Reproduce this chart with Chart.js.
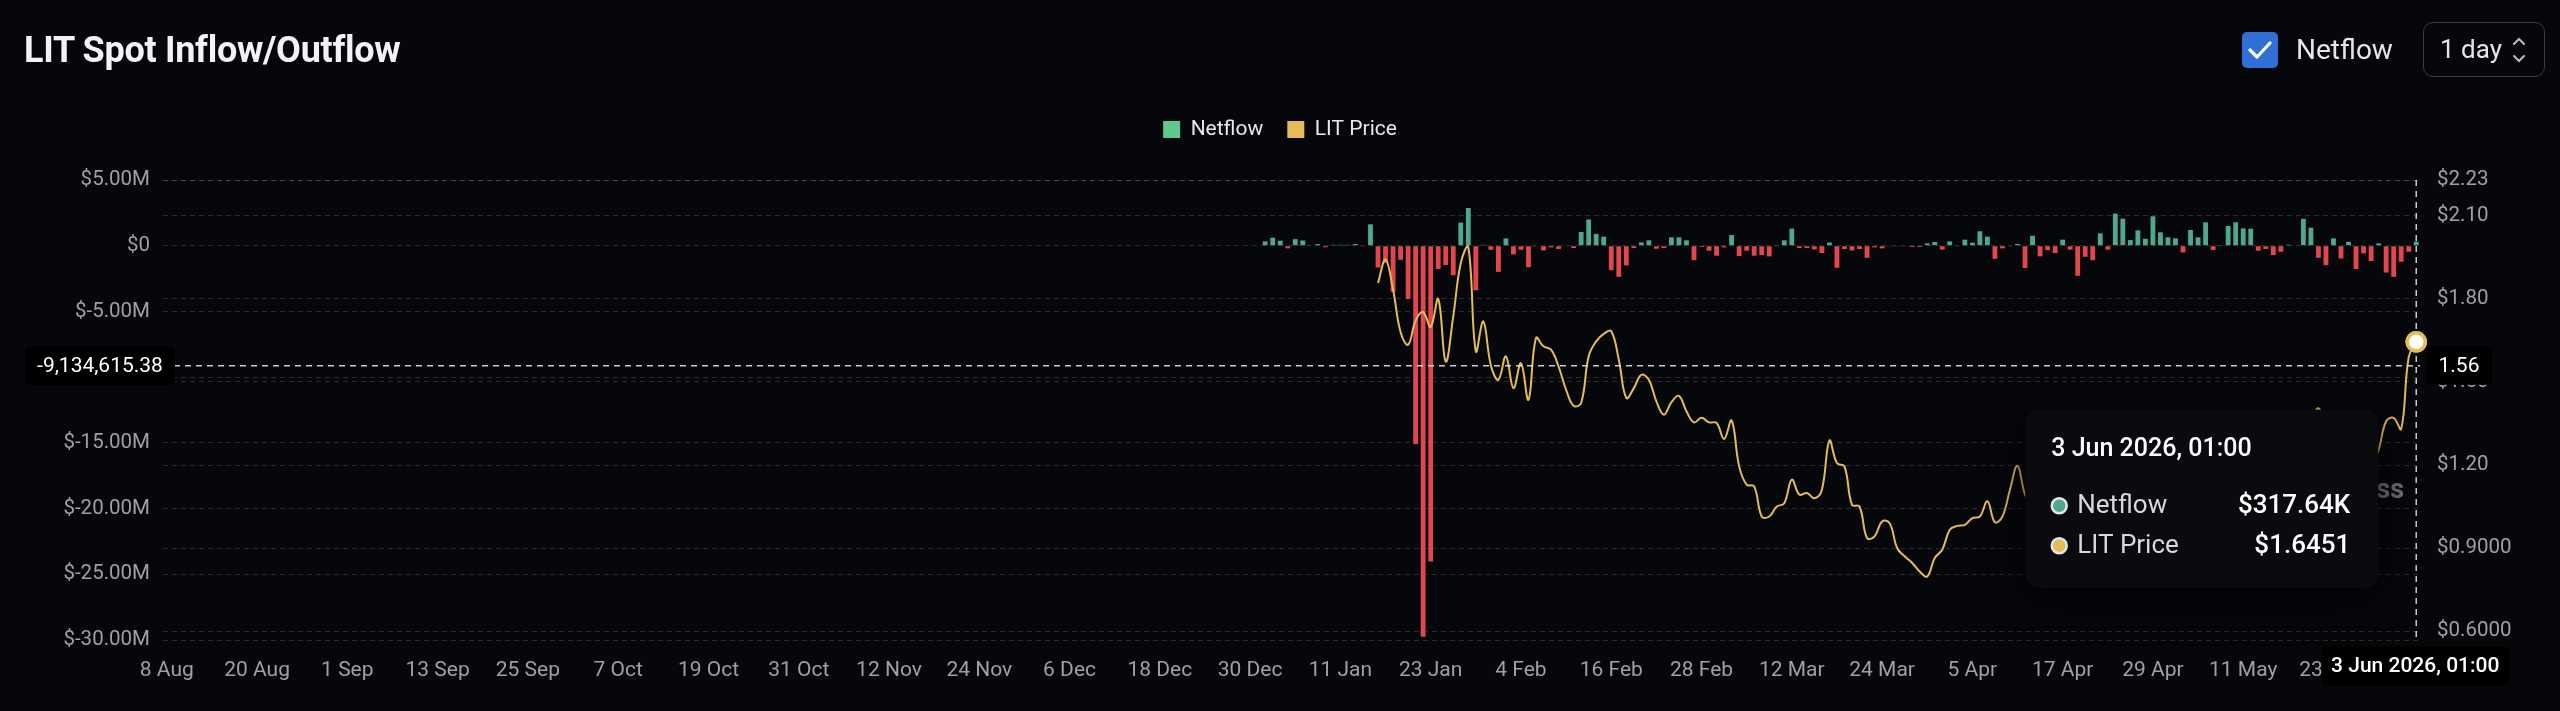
<!DOCTYPE html>
<html>
<head>
<meta charset="utf-8">
<title>LIT Spot Inflow/Outflow</title>
<script src="https://cdn.jsdelivr.net/npm/chart.js@4.4.1/dist/chart.umd.min.js"></script>
<style>
  html, body { margin: 0; padding: 0; background: #06070b; }
  body {
    width: 2560px; height: 711px; overflow: hidden; position: relative;
    font-family: Roboto, 'Noto Sans', sans-serif;
  }
  .chart-wrap { position: absolute; left: 0; top: 0; width: 2560px; height: 711px; }
  .title {
    position: absolute; left: 24px; top: 30px; line-height: 40px;
    font-size: 36px; font-weight: 700; color: #f2f3f5; letter-spacing: -0.3px;
  }
  .toggle {
    position: absolute; left: 2242px; top: 32px; width: 36px; height: 36px;
    background: #2f6fd6; border-radius: 5px;
  }
  .toggle svg { position: absolute; left: 5px; top: 6px; }
  .toggle-label {
    position: absolute; left: 2296px; top: 31px; line-height: 38px;
    font-size: 28px; color: #e6e6e8;
  }
  .select {
    position: absolute; left: 2423px; top: 22px; width: 120px; height: 53px;
    border: 1.5px solid #3a3c42; border-radius: 10px;
  }
  .select span {
    position: absolute; left: 16px; top: 7px; line-height: 38px;
    font-size: 26px; color: #e6e6e8;
  }
  .select svg { position: absolute; left: 88px; top: 11px; }
</style>
</head>
<body>
<div class="chart-wrap"><canvas id="flowChart"></canvas></div>

<div class="title">LIT Spot Inflow/Outflow</div>
<div class="toggle">
  <svg width="26" height="24" viewBox="0 0 26 24">
    <polyline points="3,12 10,19 23,5" fill="none" stroke="#ffffff" stroke-width="3.2"
      stroke-linecap="round" stroke-linejoin="round"/>
  </svg>
</div>
<div class="toggle-label">Netflow</div>
<div class="select">
  <span>1 day</span>
  <svg width="14" height="32" viewBox="0 0 14 32">
    <polyline points="2,10 7,5 12,10" fill="none" stroke="#bdbdc2" stroke-width="2" stroke-linecap="round"/>
    <polyline points="2,22 7,27 12,22" fill="none" stroke="#bdbdc2" stroke-width="2" stroke-linecap="round"/>
  </svg>
</div>

<script>
// Categories: one per day, 8 Aug 2025 -> 3 Jun 2026
const START_DATE = Date.UTC(2025, 7, 8);
const DAY_COUNT = 300;
const MONTHS = ['Jan', 'Feb', 'Mar', 'Apr', 'May', 'Jun', 'Jul', 'Aug', 'Sep', 'Oct', 'Nov', 'Dec'];
const dates = [];
for (let i = 0; i < DAY_COUNT; i++) {
  const d = new Date(START_DATE + i * 86400000);
  dates.push(d.getUTCDate() + ' ' + MONTHS[d.getUTCMonth()]);
}

// Netflow in $M, daily from 1 Jan 2026
const NETFLOW_FIRST = '1 Jan';
const netflowM = [
  0.33, 0.61, 0.38, -0.20, 0.50, 0.40, 0.03, 0.12, -0.12, 0.07,
  0.07, 0.07, 0.12, -0.05, 1.63, -1.66, -1.30, -3.50, -1.07, -4.05,
  -15.08, -29.75, -24.03, -1.77, -1.47, -2.24, 1.76, 2.87, -3.39, 0.07,
  -0.31, -1.99, 0.55, -0.66, -0.31, -1.63, -0.02, -0.36, -0.13, -0.25,
  -0.05, -0.18, 1.04, 2.00, 0.90, 0.69, -1.86, -2.37, -1.50, -0.18,
  0.25, 0.41, -0.23, -0.18, 0.64, 0.64, 0.41, -1.10, -0.10, -0.38,
  -0.76, -0.13, 0.81, -0.79, -0.38, -0.76, -0.71, -0.81, 0.02, 0.41,
  1.30, -0.18, -0.18, -0.28, -0.56, 0.25, -1.68, -0.25, -0.36, -0.25,
  -0.92, -0.13, -0.20, -0.05, -0.02, -0.05, -0.10, -0.10, 0.18, 0.28,
  -0.30, 0.33, -0.05, 0.46, 0.23, 1.10, 0.69, -1.00, -0.20, -0.03,
  0.13, -1.70, 0.76, -0.81, -0.33, -0.56, 0.46, -0.30, -2.29, -0.84,
  -1.10, 0.94, -0.30, 2.44, 2.06, 0.43, 1.17, 0.53, 2.24, 1.02,
  0.64, 0.56, -0.51, 1.20, 0.64, 1.78, -0.33, 0.02, 1.50, 1.78,
  1.32, 1.30, -0.38, -0.25, -0.71, -0.46, 0.07, 0.04, 2.04, 1.37,
  -0.92, -1.48, 0.56, -0.97, 0.30, -1.78, -0.58, -1.17, 0.18, -2.04,
  -2.37, -1.22, -0.46, 0.31764
];

// LIT price in $, daily from 16 Jan 2026
const PRICE_FIRST = '16 Jan';
const litPrice = [
  1.858, 1.942, 1.834, 1.680, 1.635, 1.722, 1.752, 1.699, 1.800, 1.574,
  1.737, 1.930, 1.988, 1.611, 1.719, 1.560, 1.508, 1.593, 1.478, 1.568,
  1.436, 1.659, 1.629, 1.617, 1.556, 1.472, 1.414, 1.424, 1.593, 1.647,
  1.674, 1.683, 1.581, 1.442, 1.478, 1.526, 1.508, 1.430, 1.382, 1.427,
  1.450, 1.394, 1.354, 1.371, 1.354, 1.352, 1.294, 1.361, 1.195, 1.129,
  1.123, 1.014, 1.014, 1.050, 1.062, 1.147, 1.093, 1.099, 1.080, 1.111,
  1.288, 1.207, 1.195, 1.056, 1.050, 0.936, 0.942, 0.996, 0.990, 0.900,
  0.870, 0.846, 0.815, 0.797, 0.864, 0.894, 0.966, 0.980, 0.984, 1.008,
  1.014, 1.069, 0.993, 1.014, 1.111, 1.197, 1.093, 1.05, 1.02, 1.04,
  1.08, 1.10, 1.06, 1.00, 0.97, 0.99, 1.04, 1.08, 1.14, 1.19,
  1.16, 1.12, 1.15, 1.21, 1.25, 1.22, 1.18, 1.14, 1.17, 1.22,
  1.27, 1.24, 1.20, 1.23, 1.28, 1.31, 1.27, 1.22, 1.19, 1.16,
  1.19, 1.23, 1.27, 1.31, 1.35, 1.405, 1.33, 1.28, 1.24, 1.21,
  1.18, 1.17, 1.19, 1.255, 1.358, 1.370, 1.330, 1.590, 1.6451
];

// Axis ticks
const netflowTicks = { min: -30e6, max: 5e6, step: 5e6 };
const priceTicks = [0.6, 0.9, 1.2, 1.5, 1.8, 2.1, 2.23];
const priceRange = { min: 0.5676, max: 2.23 };
const X_TICK_EVERY = 12;

// Hover state shown in the picture
const hoverIndex = DAY_COUNT - 1;
const hoverTime = '2026, 01:00';
const crosshairNetflow = -9134615.38;

// Colors
const GREEN = '#4ea88f';
const RED = '#e2474d';
const LEGEND_GREEN = '#5fc98c';
const GOLD = '#e4bc58';
const TICK_COLOR = '#9ea0a6';
const LEGEND_TEXT = '#e8e8ea';
const GRID_COLOR = 'rgba(255,255,255,0.14)';
const FONT = 'Roboto, "Noto Sans", sans-serif';

// Full-length series aligned on the date categories
const netflowStart = dates.indexOf(NETFLOW_FIRST);
const priceStart = dates.indexOf(PRICE_FIRST);
const netflowSeries = dates.map((_, i) =>
  i >= netflowStart && i - netflowStart < netflowM.length ? netflowM[i - netflowStart] * 1e6 : null);
const priceSeries = dates.map((_, i) =>
  i >= priceStart && i - priceStart < litPrice.length ? litPrice[i - priceStart] : null);

function formatMoney(v) {
  if (v === 0) return '$0';
  return '$' + (v / 1e6).toFixed(2) + 'M';
}

function formatFlow(v) {
  const a = Math.abs(v);
  if (a >= 1e6) return '$' + (v / 1e6).toFixed(2) + 'M';
  if (a >= 1e3) return '$' + (v / 1e3).toFixed(2) + 'K';
  return '$' + v.toFixed(2);
}

function formatPrice(v) {
  return '$' + (v >= 1 ? v.toFixed(2) : v.toFixed(4));
}

function roundRect(ctx, x, y, w, h, r) {
  ctx.beginPath();
  ctx.moveTo(x + r, y);
  ctx.arcTo(x + w, y, x + w, y + h, r);
  ctx.arcTo(x + w, y + h, x, y + h, r);
  ctx.arcTo(x, y + h, x, y, r);
  ctx.arcTo(x, y, x + w, y, r);
  ctx.closePath();
}

function drawAxisLabel(ctx, text, cx, cy, w, h, bold) {
  ctx.fillStyle = '#000000';
  roundRect(ctx, cx - w / 2, cy - h / 2, w, h, 4);
  ctx.fill();
  ctx.fillStyle = '#ffffff';
  ctx.font = (bold ? '500 ' : '') + '21px ' + FONT;
  ctx.textAlign = 'center';
  ctx.textBaseline = 'middle';
  ctx.fillText(text, cx, cy + 1);
}

function drawTooltip(ctx, right, top) {
  const w = 353, h = 178, left = right - w;
  ctx.save();
  ctx.shadowColor = 'rgba(0,0,0,0.8)';
  ctx.shadowBlur = 40;
  ctx.shadowOffsetY = 10;
  ctx.fillStyle = '#0a0b0e';
  roundRect(ctx, left, top, w, h, 14);
  ctx.fill();
  ctx.restore();

  ctx.save();
  ctx.textBaseline = 'middle';
  ctx.fillStyle = '#ffffff';
  ctx.font = '500 25px ' + FONT;
  ctx.textAlign = 'left';
  ctx.fillText(dates[hoverIndex] + ' ' + hoverTime, left + 26, top + 40);

  const rows = [
    { label: 'Netflow', value: formatFlow(netflowSeries[hoverIndex]), color: GREEN, y: top + 96 },
    { label: 'LIT Price', value: '$' + priceSeries[hoverIndex].toFixed(4), color: GOLD, y: top + 136 }
  ];
  rows.forEach(r => {
    ctx.beginPath();
    ctx.arc(left + 34, r.y, 7.5, 0, Math.PI * 2);
    ctx.fillStyle = r.color;
    ctx.fill();
    ctx.lineWidth = 2.5;
    ctx.strokeStyle = '#e6e6e6';
    ctx.stroke();

    ctx.textAlign = 'left';
    ctx.font = '26px ' + FONT;
    ctx.fillStyle = '#d9d9dc';
    ctx.fillText(r.label, left + 52, r.y + 1);

    ctx.textAlign = 'right';
    ctx.font = '500 26px ' + FONT;
    ctx.fillStyle = '#ffffff';
    ctx.fillText(r.value, right - 28, r.y + 1);
  });
  ctx.restore();
}

// Gap between the legend row and the plot area
const legendGap = {
  id: 'legendGap',
  beforeInit(chart) {
    const fit = chart.legend.fit;
    chart.legend.fit = function () {
      fit.call(this);
      this.height += 30;
    };
  }
};

// Crosshair, axis pointer labels, watermark and the hover tooltip
const hoverOverlay = {
  id: 'hoverOverlay',
  beforeDatasetsDraw(chart) {
    const { ctx, chartArea } = chart;
    ctx.save();
    ctx.font = 'bold 27px ' + FONT;
    ctx.fillStyle = 'rgba(150,152,158,0.75)';
    ctx.textAlign = 'right';
    ctx.textBaseline = 'middle';
    ctx.fillText('coinglass', chartArea.right - 16, chartArea.top + 311);
    ctx.restore();
  },
  afterDatasetsDraw(chart) {
    const { ctx, chartArea, scales } = chart;
    const x = scales.x.getPixelForValue(hoverIndex);
    const y = scales.y.getPixelForValue(crosshairNetflow);
    ctx.save();
    ctx.strokeStyle = 'rgba(236,236,238,0.85)';
    ctx.lineWidth = 1.5;
    ctx.setLineDash([6, 5]);
    ctx.beginPath();
    ctx.moveTo(x, chartArea.top);
    ctx.lineTo(x, chartArea.bottom);
    ctx.moveTo(chartArea.left, y);
    ctx.lineTo(chartArea.right, y);
    ctx.stroke();
    ctx.restore();
    // keep the hovered price point above the crosshair
    const point = chart.getDatasetMeta(1).data[hoverIndex];
    if (point) point.draw(ctx, chartArea);
  },
  afterDraw(chart) {
    const { ctx, chartArea, scales } = chart;
    const x = scales.x.getPixelForValue(hoverIndex);
    const y = scales.y.getPixelForValue(crosshairNetflow);
    ctx.save();
    const leftText = crosshairNetflow.toLocaleString('en-US', { minimumFractionDigits: 2, maximumFractionDigits: 2 });
    drawAxisLabel(ctx, leftText, 100, y, 150, 38, false);
    const rightText = scales.y1.getValueForPixel(y).toFixed(2);
    drawAxisLabel(ctx, rightText, chartArea.right + 39, y, 66, 38, false);
    drawAxisLabel(ctx, dates[hoverIndex] + ' ' + hoverTime, x - 1, chartArea.bottom + 26, 187, 39, true);
    ctx.restore();
    drawTooltip(ctx, x - 38, y + 44);
  }
};

Chart.defaults.font.family = FONT;

const ctx = document.getElementById('flowChart').getContext('2d');
const flowChart = new Chart(ctx, {
  data: {
    labels: dates,
    datasets: [
      {
        type: 'bar',
        label: 'Netflow',
        data: netflowSeries,
        yAxisID: 'y',
        backgroundColor: c => (c.raw >= 0 ? GREEN : RED),
        categoryPercentage: 1,
        barPercentage: 0.64,
        order: 1
      },
      {
        type: 'line',
        label: 'LIT Price',
        data: priceSeries,
        yAxisID: 'y1',
        borderColor: GOLD,
        borderWidth: 2,
        tension: 0.4,
        pointRadius: c => (c.dataIndex === hoverIndex ? 9 : 0),
        pointHoverRadius: 0,
        pointBackgroundColor: '#ffffff',
        pointBorderColor: GOLD,
        pointBorderWidth: 3.5,
        order: 0
      }
    ]
  },
  options: {
    responsive: true,
    maintainAspectRatio: false,
    animation: false,
    events: [],
    layout: { padding: { top: 95, bottom: 31, left: 0, right: 0 } },
    plugins: {
      legend: {
        position: 'top',
        labels: {
          boxWidth: 17,
          boxHeight: 17,
          padding: 24,
          color: LEGEND_TEXT,
          font: { size: 21 },
          generateLabels: () => [
            { text: 'Netflow', fillStyle: LEGEND_GREEN, strokeStyle: LEGEND_GREEN, fontColor: LEGEND_TEXT, lineWidth: 0, datasetIndex: 0 },
            { text: 'LIT Price', fillStyle: GOLD, strokeStyle: GOLD, fontColor: LEGEND_TEXT, lineWidth: 0, datasetIndex: 1 }
          ]
        }
      },
      tooltip: { enabled: false }
    },
    scales: {
      x: {
        grid: { display: false },
        border: { display: false },
        ticks: {
          autoSkip: false,
          maxRotation: 0,
          minRotation: 0,
          padding: 10,
          color: TICK_COLOR,
          font: { size: 21 },
          callback: (value, index) => (index % X_TICK_EVERY === 0 ? dates[index] : null)
        },
        afterFit: s => { s.height = 40; }
      },
      y: {
        position: 'left',
        min: netflowTicks.min,
        max: netflowTicks.max,
        grid: { color: GRID_COLOR, lineWidth: 1, drawTicks: false },
        border: { display: false, dash: [5, 4] },
        ticks: {
          stepSize: netflowTicks.step,
          padding: 13,
          color: TICK_COLOR,
          font: { size: 20.5 },
          callback: v => formatMoney(v)
        },
        afterFit: s => { s.width = 163; }
      },
      y1: {
        position: 'right',
        min: priceRange.min,
        max: priceRange.max,
        grid: { color: GRID_COLOR, lineWidth: 1, drawTicks: false },
        border: { display: false, dash: [5, 4] },
        afterBuildTicks: s => { s.ticks = priceTicks.map(v => ({ value: v })); },
        ticks: {
          padding: 17,
          color: TICK_COLOR,
          font: { size: 20.5 },
          callback: v => formatPrice(v)
        },
        afterFit: s => { s.width = 140; }
      }
    }
  },
  plugins: [legendGap, hoverOverlay]
});
</script>
</body>
</html>
